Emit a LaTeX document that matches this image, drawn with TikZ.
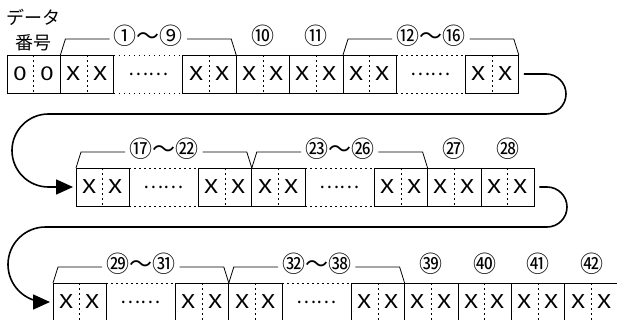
\documentclass[tikz,border=0pt]{standalone}
\usepackage{fontspec}
\setmainfont{Noto Sans CJK JP}
\newfontfamily\boxfont[FakeStretch=1.3]{Noto Sans CJK JP}
\usepackage{tikz}
\usetikzlibrary{positioning, calc, arrows.meta}
\tikzset{
x=1pt, y=1pt, % one unit is one pixel of the layout
cell/.style={draw, line width=0.9pt, minimum width=53.4pt, minimum height=38pt,
  inner sep=0pt, outer sep=0pt, font=\boxfont\fontsize{19}{19}\selectfont,
  path picture={\draw[line width=0.8pt, dash pattern=on 2pt off 3pt]
    (path picture bounding box.north) -- (path picture bounding box.south);}}, % a box of two digits
gap/.style={minimum width=69pt, minimum height=38pt, inner sep=0pt, outer sep=0pt,
  font=\fontsize{19}{19}\selectfont}, % the boxes that are left out
num/.style={inner sep=4pt, font=\fontsize{23}{23}\selectfont}, % circled numbers
brace/.style={line width=0.8pt}, % group brackets
dots/.style={line width=0.9pt, dash pattern=on 1.5pt off 3.5pt}, % dotted edges of a gap
link/.style={line width=1.6pt, -{Triangle[length=17pt,width=15pt]}}, % row to row arrows
}
\newcommand{\two}[1]{\makebox[26.7pt]{#1}\makebox[26.7pt]{#1}}

\begin{document}
\begin{tikzpicture}
        \useasboundingbox (0,0) rectangle (617,-320);

        % row 1
        \node[align=center, font=\fontsize{18}{24.5}\selectfont] (title) at (33.5,-30) {データ\\番号};
        \node[cell, anchor=north west] (b0) at (7,-55) {\two{0}};
        \node[cell, right=0pt of b0] (b1) {\two{X}};
        \node[gap, right=0pt of b1] (g1) {……};
        \node[cell, right=0pt of g1] (b9) {\two{X}};
        \node[cell, right=0pt of b9] (b10) {\two{X}};
        \node[cell, right=0pt of b10] (b11) {\two{X}};
        \node[cell, right=0pt of b11] (b12) {\two{X}};
        \node[gap, right=0pt of b12] (g2) {……};
        \node[cell, right=0pt of g2] (b16) {\two{X}};

        % row 2
        \node[cell, anchor=north west] (b17) at (76,-168) {\two{X}};
        \node[gap, right=0pt of b17] (g3) {……};
        \node[cell, right=0pt of g3] (b22) {\two{X}};
        \node[cell, right=0pt of b22] (b23) {\two{X}};
        \node[gap, right=0pt of b23] (g4) {……};
        \node[cell, right=0pt of g4] (b26) {\two{X}};
        \node[cell, right=0pt of b26] (b27) {\two{X}};
        \node[cell, right=0pt of b27] (b28) {\two{X}};

        % row 3
        \node[cell, anchor=north west] (b29) at (53,-283) {\two{X}};
        \node[gap, right=0pt of b29] (g5) {……};
        \node[cell, right=0pt of g5] (b31) {\two{X}};
        \node[cell, right=0pt of b31] (b32) {\two{X}};
        \node[gap, right=0pt of b32] (g6) {……};
        \node[cell, right=0pt of g6] (b38) {\two{X}};
        \node[cell, right=0pt of b38] (b39) {\two{X}};
        \node[cell, right=0pt of b39] (b40) {\two{X}};
        \node[cell, right=0pt of b40] (b41) {\two{X}};
        \node[cell, right=0pt of b41] (b42) {\two{X}};

        % numbers
        \node[num] (n1) at ($(b1.north west)!0.5!(b9.north east)+(0,19)$) {①〜⑨};
        \node[num] (n10) at ($(b10.north)+(0,19)$) {⑩};
        \node[num] (n11) at ($(b11.north)+(0,19)$) {⑪};
        \node[num] (n12) at ($(b12.north west)!0.5!(b16.north east)+(0,19)$) {⑫〜⑯};
        \node[num] (n17) at ($(b17.north west)!0.5!(b22.north east)+(0,19)$) {⑰〜㉒};
        \node[num] (n23) at ($(b23.north west)!0.5!(b26.north east)+(0,19)$) {㉓〜㉖};
        \node[num] (n27) at ($(b27.north)+(0,19)$) {㉗};
        \node[num] (n28) at ($(b28.north)+(0,19)$) {㉘};
        \node[num] (n29) at ($(b29.north west)!0.5!(b31.north east)+(0,19)$) {㉙〜㉛};
        \node[num] (n32) at ($(b32.north west)!0.5!(b38.north east)+(0,19)$) {㉜〜㊳};
        \node[num] (n39) at ($(b39.north)+(0,19)$) {㊴};
        \node[num] (n40) at ($(b40.north)+(0,19)$) {㊵};
        \node[num] (n41) at ($(b41.north)+(0,19)$) {㊶};
        \node[num] (n42) at ($(b42.north)+(0,19)$) {㊷};

        % dotted gaps
        \foreach \g in {g1, g2, g3, g4, g5, g6}
          \draw[dots] (\g.north west) -- (\g.north east) (\g.south west) -- (\g.south east);

        % brackets
        \foreach \a/\n/\b in {b1/n1/b9, b12/n12/b16, b17/n17/b22, b23/n23/b26, b29/n29/b31, b32/n32/b38}
          \draw[brace] (\a.north west) -- ($(\a.north west)+(5,16)$) -- ([yshift=-3pt]\n.west)
                       ([yshift=-3pt]\n.east) -- ($(\b.north east)+(-5,16)$) -- (\b.north east);

        % arrows
        \draw[link] ([xshift=5pt]b16.east) -- (546,-74) arc[start angle=90, end angle=-90, radius=20]
          -- (48.5,-114) arc[start angle=90, end angle=270, radius=36.5] -- ([xshift=-3pt]b17.west);
        \draw[link] ([xshift=5pt]b28.east) -- (547,-187) arc[start angle=90, end angle=-90, radius=20]
          -- (45.5,-227) arc[start angle=90, end angle=270, radius=37.5] -- ([xshift=-3pt]b29.west);
\end{tikzpicture}
\end{document}
